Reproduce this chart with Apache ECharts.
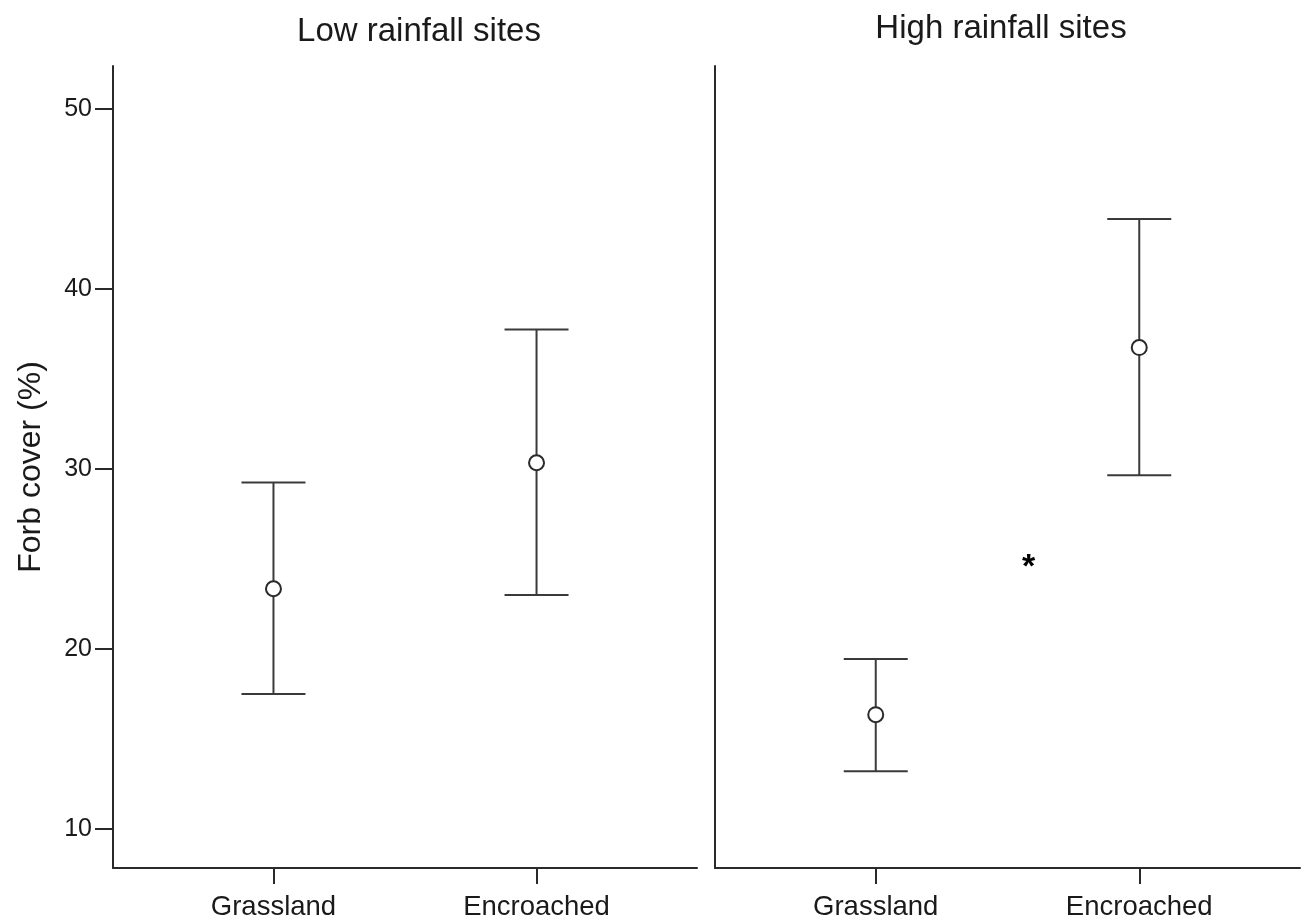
<!DOCTYPE html>
<html>
<head>
<meta charset="utf-8">
<script src="https://cdn.jsdelivr.net/npm/echarts@6/dist/echarts.min.js"></script>
<style>html,body{margin:0;padding:0;background:#fff}#chart{width:1309px;height:923px}</style>
</head>
<body>
<div id="chart"></div>
<script>
const panels = ['Low rainfall sites', 'High rainfall sites'];
const categories = ['Grassland', 'Encroached'];
const yTicks = [10, 20, 30, 40, 50];
// mean, lower, upper for each panel
const lowMean = [23.35, 30.35];
const lowLower = [17.5, 23.0];
const lowUpper = [29.25, 37.75];
const highMean = [16.35, 36.75];
const highLower = [13.2, 29.65];
const highUpper = [19.45, 43.9];
const asterisk = [1.58, 24.5];

const FONT = '"Liberation Sans", Arial, sans-serif';
const INK = '#2a2a2a';
const catPos = categories.map((c, i) => i + 1);

function errSeries(idx, lower, upper) {
  return {
    type: 'custom', xAxisIndex: idx, yAxisIndex: idx, silent: true,
    data: catPos.map((x, i) => [x, lower[i], upper[i]]),
    renderItem: function (params, api) {
      const x = api.value(0);
      const lo = api.coord([x, api.value(1)]);
      const hi = api.coord([x, api.value(2)]);
      const hw = 32;
      const st = { stroke: '#3a3a3a', lineWidth: 2 };
      return {
        type: 'group',
        children: [
          { type: 'line', shape: { x1: lo[0], y1: lo[1], x2: hi[0], y2: hi[1] }, style: st },
          { type: 'line', shape: { x1: lo[0] - hw, y1: lo[1], x2: lo[0] + hw, y2: lo[1] }, style: st },
          { type: 'line', shape: { x1: hi[0] - hw, y1: hi[1], x2: hi[0] + hw, y2: hi[1] }, style: st }
        ]
      };
    },
    z: 2
  };
}
function meanSeries(idx, mean) {
  return {
    type: 'scatter', xAxisIndex: idx, yAxisIndex: idx, silent: true,
    data: catPos.map((x, i) => [x, mean[i]]),
    symbol: 'circle', symbolSize: 15,
    itemStyle: { color: '#fff', borderColor: '#2a2a2a', borderWidth: 2, opacity: 1 },
    z: 5
  };
}

function xAxis(idx) {
  return {
    type: 'value', gridIndex: idx, min: 0.39, max: 2.61,
    axisLine: { show: true, lineStyle: { color: INK, width: 2 } },
    axisTick: { show: true, customValues: catPos, length: 16, lineStyle: { color: INK, width: 2 } },
    axisLabel: {
      show: true, customValues: catPos, margin: 25,
      formatter: v => categories[Math.round(v) - 1] || '',
      color: '#1a1a1a', fontSize: 27.5, fontFamily: FONT
    },
    splitLine: { show: false }
  };
}
function yAxis(idx) {
  const labelled = idx === 0;
  return {
    type: 'value', gridIndex: idx, min: 7.83, max: 52.4,
    name: labelled ? 'Forb cover (%)' : '',
    nameLocation: 'middle', nameRotate: 90, nameGap: 66,
    nameTextStyle: { fontSize: 32, color: '#1a1a1a', fontFamily: FONT },
    axisLine: { show: true, lineStyle: { color: INK, width: 2 } },
    axisTick: { show: labelled, customValues: yTicks, length: 18, lineStyle: { color: INK, width: 2 } },
    axisLabel: { show: labelled, customValues: yTicks, margin: 21, color: '#1a1a1a', fontSize: 25, fontFamily: FONT },
    splitLine: { show: false }
  };
}

const chart = echarts.init(document.getElementById('chart'), null, { renderer: 'canvas' });
chart.setOption({
  animation: false,
  backgroundColor: '#fff',
  title: [
    { text: panels[0], left: 414, top: 10, textAlign: 'center', textStyle: { fontSize: 33, fontWeight: 'normal', color: '#1a1a1a', fontFamily: FONT } },
    { text: panels[1], left: 996, top: 7, textAlign: 'center', textStyle: { fontSize: 33, fontWeight: 'normal', color: '#1a1a1a', fontFamily: FONT } }
  ],
  grid: [
    { left: 113, width: 584, top: 66, bottom: 55 },
    { left: 715, width: 585, top: 66, bottom: 55 }
  ],
  xAxis: [xAxis(0), xAxis(1)],
  yAxis: [yAxis(0), yAxis(1)],
  series: [
    errSeries(0, lowLower, lowUpper), meanSeries(0, lowMean),
    errSeries(1, highLower, highUpper), meanSeries(1, highMean),
    {
      type: 'scatter', xAxisIndex: 1, yAxisIndex: 1, silent: true,
      data: [asterisk], symbolSize: 1, itemStyle: { opacity: 0 },
      label: { show: true, position: 'inside', formatter: '*', fontSize: 34, fontWeight: 'bold', color: '#000', fontFamily: FONT, opacity: 1 },
      z: 6
    }
  ]
});
</script>
</body>
</html>
